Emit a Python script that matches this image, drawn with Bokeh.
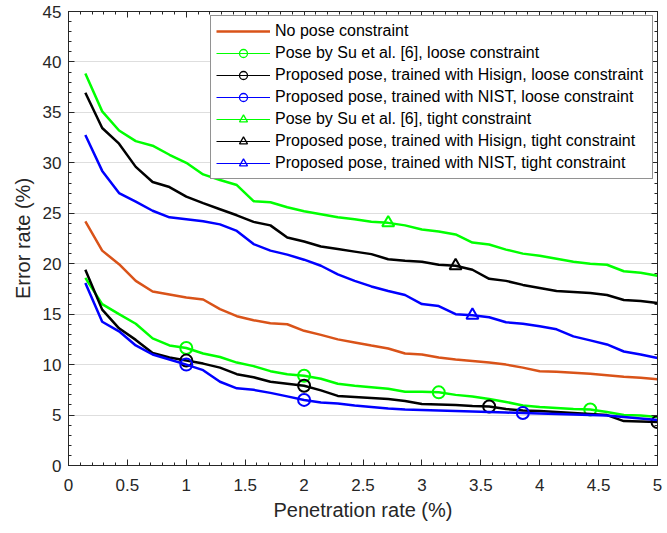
from bokeh.plotting import figure
from bokeh.models import (LinearAxis, Range1d, FixedTicker, Legend, LegendItem,
                          NumeralTickFormatter)
from bokeh.embed import file_html
from bokeh.resources import INLINE

# ---------------- data ----------------
penetration = [0.143, 0.286, 0.429, 0.571, 0.714, 0.857, 1.0, 1.143, 1.286, 1.429,
               1.571, 1.714, 1.857, 2.0, 2.143, 2.286, 2.429, 2.571, 2.714, 2.857,
               3.0, 3.143, 3.286, 3.429, 3.571, 3.714, 3.857, 4.0, 4.143, 4.286,
               4.429, 4.571, 4.714, 4.857, 5.0]

no_pose = [24.2, 21.3, 19.95, 18.3, 17.25, 16.95, 16.65, 16.45, 15.5, 14.8,
           14.4, 14.1, 14.0, 13.35, 12.95, 12.5, 12.2, 11.9, 11.6, 11.1,
           11.0, 10.7, 10.5, 10.35, 10.2, 10.0, 9.7, 9.35, 9.3, 9.2,
           9.1, 8.95, 8.8, 8.7, 8.55]

su_loose = [18.6, 16.0, 15.0, 14.05, 12.6, 11.9, 11.65, 11.1, 10.75, 10.2,
            9.85, 9.35, 9.05, 8.9, 8.6, 8.1, 7.9, 7.75, 7.6, 7.3,
            7.3, 7.25, 7.0, 6.85, 6.6, 6.3, 5.95, 5.8, 5.7, 5.6,
            5.55, 5.3, 5.0, 4.95, 4.8]

hisign_loose = [19.4, 15.45, 13.6, 12.45, 11.15, 10.7, 10.4, 10.1, 9.7, 9.05,
                8.75, 8.3, 8.1, 7.9, 7.45, 6.9, 6.8, 6.7, 6.6, 6.4,
                6.1, 6.05, 6.0, 5.9, 5.85, 5.6, 5.45, 5.4, 5.3, 5.2,
                5.1, 5.0, 4.4, 4.35, 4.3]

nist_loose = [18.1, 14.25, 13.3, 11.9, 11.0, 10.5, 10.0, 9.45, 8.3, 7.65,
              7.5, 7.2, 6.85, 6.5, 6.25, 6.15, 5.95, 5.8, 5.65, 5.55,
              5.5, 5.45, 5.4, 5.35, 5.3, 5.25, 5.2, 5.15, 5.1, 5.05,
              5.0, 4.95, 4.8, 4.65, 4.5]

su_tight = [38.85, 35.1, 33.2, 32.15, 31.7, 30.8, 30.0, 28.85, 28.3, 27.8,
            26.2, 26.1, 25.6, 25.2, 24.9, 24.6, 24.4, 24.15, 24.05, 23.8,
            23.4, 23.2, 22.9, 22.1, 21.9, 21.4, 21.0, 20.8, 20.5, 20.2,
            20.0, 19.9, 19.25, 19.1, 18.8]

hisign_tight = [36.95, 33.45, 31.9, 29.6, 28.1, 27.6, 26.65, 26.0, 25.4, 24.8,
                24.15, 23.8, 22.6, 22.2, 21.7, 21.45, 21.2, 20.95, 20.45, 20.3,
                20.2, 19.9, 19.8, 19.4, 18.5, 18.3, 17.9, 17.6, 17.3, 17.2,
                17.1, 16.9, 16.4, 16.3, 16.1]

nist_tight = [32.75, 29.2, 27.0, 26.15, 25.25, 24.6, 24.4, 24.2, 23.9, 23.25,
              21.95, 21.3, 20.9, 20.4, 19.8, 18.95, 18.3, 17.75, 17.3, 16.9,
              16.0, 15.8, 15.0, 14.9, 14.7, 14.2, 14.05, 13.8, 13.5, 12.8,
              12.4, 12.0, 11.3, 11.0, 10.65]

# indices of the points that carry a marker
su_loose_marks = [6, 13, 21, 30]
hisign_loose_marks = [6, 13, 24, 34]
nist_loose_marks = [6, 13, 26]
su_tight_marks = [18]
hisign_tight_marks = [22]
nist_tight_marks = [23]

x_ticks = [0, 0.5, 1, 1.5, 2, 2.5, 3, 3.5, 4, 4.5, 5]
y_ticks = [0, 5, 10, 15, 20, 25, 30, 35, 40, 45]

labels = ["No pose constraint",
          "Pose by Su et al. [6], loose constraint",
          "Proposed pose, trained with Hisign, loose constraint",
          "Proposed pose, trained with NIST, loose constraint",
          "Pose by Su et al. [6], tight constraint",
          "Proposed pose, trained with Hisign, tight constraint",
          "Proposed pose, trained with NIST, tight constraint"]

# ---------------- figure ----------------
FONT = "Liberation Sans"
AX = "#262626"
ORANGE, GREEN, BLACK, BLUE = "#D95319", "#00FF00", "#000000", "#0000FF"

p = figure(width=667, height=533, output_backend="svg", toolbar_location=None,
           x_range=Range1d(0, 5), y_range=Range1d(0, 45),
           min_border_left=68, min_border_right=10, min_border_top=11,
           min_border_bottom=68, background_fill_color="white")
p.outline_line_color = AX
p.outline_line_width = 1

x_minor = [i / 10 for i in range(0, 51)]
y_minor = list(range(0, 46))

p.xaxis.ticker = FixedTicker(ticks=x_ticks, minor_ticks=x_minor)
p.yaxis.ticker = FixedTicker(ticks=y_ticks, minor_ticks=y_minor)
p.xaxis.formatter = NumeralTickFormatter(format="0.[0]")

for ax in (p.xaxis[0], p.yaxis[0]):
    ax.axis_line_color = AX
    ax.major_tick_line_color = AX
    ax.minor_tick_line_color = AX
    ax.major_tick_in = 6
    ax.major_tick_out = 0
    ax.minor_tick_in = 3
    ax.minor_tick_out = 0
    ax.major_label_text_font = FONT
    ax.major_label_text_font_size = "17px"
    ax.major_label_text_color = AX
    ax.axis_label_text_font = FONT
    ax.axis_label_text_font_size = "20px"
    ax.axis_label_text_font_style = "normal"
    ax.axis_label_text_color = AX

p.xaxis.axis_label = "Penetration rate (%)"
p.yaxis.axis_label = "Error rate (%)"
p.xaxis.major_label_standoff = 13
p.yaxis.major_label_standoff = 7
p.xaxis.axis_label_standoff = 5
p.yaxis.axis_label_standoff = 6

# mirrored axes (box ticks)
top = LinearAxis(ticker=FixedTicker(ticks=x_ticks, minor_ticks=x_minor))
right = LinearAxis(ticker=FixedTicker(ticks=y_ticks, minor_ticks=y_minor))
for ax in (top, right):
    ax.axis_line_color = AX
    ax.major_tick_line_color = AX
    ax.minor_tick_line_color = AX
    ax.major_tick_in = 6
    ax.major_tick_out = 0
    ax.minor_tick_in = 3
    ax.minor_tick_out = 0
    ax.major_label_text_font_size = "0px"
    ax.major_label_standoff = 0
p.add_layout(top, "above")
p.add_layout(right, "right")

p.xgrid.visible = False
p.ygrid.ticker = FixedTicker(ticks=y_ticks)
p.ygrid.grid_line_color = "#dedede"
p.ygrid.grid_line_width = 1

LW = 2.5
series = [
    (no_pose, ORANGE, None, []),
    (su_loose, GREEN, "circle", su_loose_marks),
    (hisign_loose, BLACK, "circle", hisign_loose_marks),
    (nist_loose, BLUE, "circle", nist_loose_marks),
    (su_tight, GREEN, "triangle", su_tight_marks),
    (hisign_tight, BLACK, "triangle", hisign_tight_marks),
    (nist_tight, BLUE, "triangle", nist_tight_marks),
]

for ys, col, mk, marks in series:
    p.line(penetration, ys, line_color=col, line_width=LW)
    if mk:
        p.scatter([penetration[i] for i in marks], [ys[i] for i in marks],
                  marker=mk, size=12, fill_color=None, line_color=col,
                  line_width=2)

# legend drawn from placeholder renderers (a single NaN point each) so that
# legend lines can be thin like the original
NAN = float("nan")
items = []
for (ys, col, mk, marks), lab in zip(series, labels):
    rends = [p.line([NAN], [NAN], line_color=col,
                    line_width=(2.3 if mk is None else 1.2))]
    if mk:
        rends.append(p.scatter([NAN], [NAN], marker=mk, size=11, fill_color=None,
                               line_color=col, line_width=1.3))
    items.append(LegendItem(label=lab, renderers=rends))

legend = Legend(items=items, location="top_right")
legend.label_text_font = FONT
legend.label_text_font_size = "16px"
legend.label_text_color = "#000000"
legend.glyph_width = 54
legend.glyph_height = 20
legend.label_height = 20
legend.label_width = 372
legend.label_standoff = 5
legend.spacing = 2
legend.padding = 5
legend.margin = 4
legend.border_line_color = AX
legend.border_line_width = 1
legend.background_fill_alpha = 1.0
p.add_layout(legend, "center")

open("out.html", "w").write(file_html(p, INLINE))
